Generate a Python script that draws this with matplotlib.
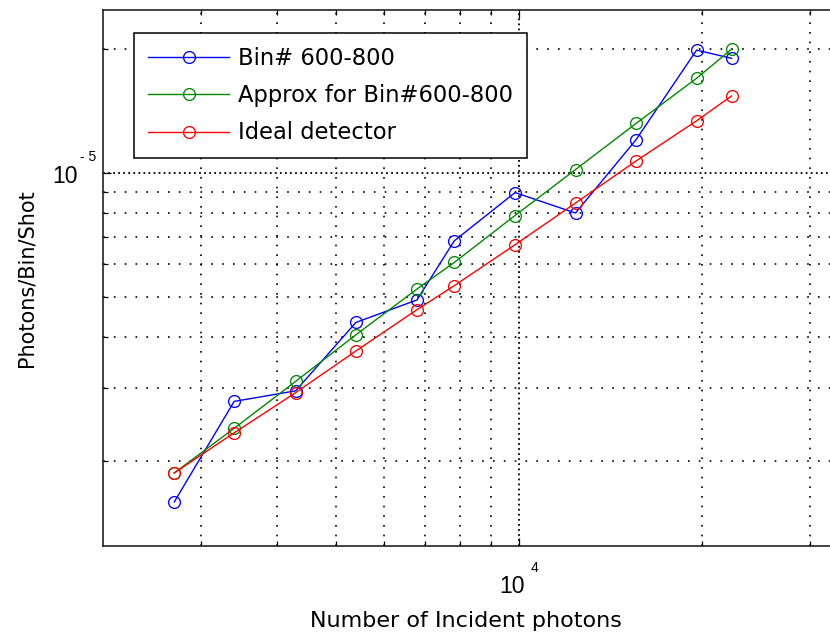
import numpy as np
import matplotlib.pyplot as plt
from matplotlib.ticker import LogLocator, FixedLocator, NullFormatter

plt.rcParams['font.family'] = ['DejaVu Sans']

# number of incident photons per shot
n_inc = [2710, 3400, 4290, 5390, 6790, 7820, 9840, 12370, 15550, 19560, 22330]
# measured photons/bin/shot, bins 600-800
bin_600_800 = [1.59e-6, 2.79e-6, 2.96e-6, 4.34e-6, 4.92e-6, 6.85e-6,
               8.97e-6, 8.00e-6, 1.205e-5, 1.99e-5, 1.90e-5]
# approximation for the same bins
approx_600_800 = [1.87e-6, 2.40e-6, 3.12e-6, 4.05e-6, 5.23e-6, 6.07e-6,
                  7.89e-6, 1.02e-5, 1.32e-5, 1.70e-5, 2.00e-5]
# ideal detector response
ideal = [1.87e-6, 2.34e-6, 2.93e-6, 3.70e-6, 4.66e-6, 5.33e-6,
         6.70e-6, 8.46e-6, 1.07e-5, 1.34e-5, 1.54e-5]

# decade ticks that carry a label
x_dec = [1e4]
y_dec = [1e-5]

fig = plt.figure(figsize=(8.3, 6.32), dpi=100)
ax = fig.add_axes([103/830, 86/632, 737/830, 536/632])

kw = dict(marker='o', mfc='none', ms=8.5, mew=0.95, lw=1.0)
ax.loglog(n_inc, bin_600_800, color='#0000ff', label='Bin# 600-800', **kw)
ax.loglog(n_inc, approx_600_800, color='#008800', label='Approx for Bin#600-800', **kw)
ax.loglog(n_inc, ideal, color='#ff0000', label='Ideal detector', **kw)

ax.set_xlim(2070, 33650)
ax.set_ylim(1.243e-6, 2.49e-5)

ax.xaxis.set_major_locator(FixedLocator(x_dec))
ax.xaxis.set_minor_locator(LogLocator(base=10, subs=np.arange(2, 10)))
ax.yaxis.set_major_locator(FixedLocator(y_dec))
ax.yaxis.set_minor_locator(LogLocator(base=10, subs=np.arange(2, 10)))
for a in (ax.xaxis, ax.yaxis):
    a.set_major_formatter(NullFormatter())
    a.set_minor_formatter(NullFormatter())

# decade labels written as 10 with a small raised exponent
tick_font = dict(family=['Liberation Sans', 'DejaVu Sans'], color='k')
for v in x_dec:
    e = int(round(np.log10(v)))
    ax.annotate('10', xy=(v, 0), xycoords=('data', 'axes fraction'),
                xytext=(-4.9, -29.2), textcoords='offset points',
                ha='center', va='center', fontsize=16.5, **tick_font)
    ax.annotate(str(e), xy=(v, 0), xycoords=('data', 'axes fraction'),
                xytext=(10.9, -15.8), textcoords='offset points',
                ha='center', va='center', fontsize=10, **tick_font)
for v in y_dec:
    e = int(round(np.log10(v)))
    ax.annotate('10', xy=(0, v), xycoords=('axes fraction', 'data'),
                xytext=(-27.7, -2.1), textcoords='offset points',
                ha='center', va='center', fontsize=16.5, **tick_font)
    ax.annotate(str(e).replace('-', '- '), xy=(0, v), xycoords=('axes fraction', 'data'),
                xytext=(-10.6, 11.4), textcoords='offset points',
                ha='center', va='center', fontsize=10, **tick_font)

# dotted grid, denser dots on the decade lines
ax.set_axisbelow(True)
ax.grid(True, which='minor', axis='x', color='k', lw=1.2, ls=(0, (1, 4.8)))
ax.grid(True, which='minor', axis='y', color='k', lw=1.2, ls=(0, (1, 5.5)))
ax.grid(True, which='major', color='k', lw=1.3, ls=(0, (1, 1.8)))

ax.tick_params(which='both', direction='in', top=True, right=True, width=0.9, colors='k')
ax.tick_params(which='major', length=6)
ax.tick_params(which='minor', length=3.6)
for sp in ax.spines.values():
    sp.set_linewidth(1.2)
    sp.set_color('#222222')

ax.set_xlabel('Number of Incident photons', fontsize=16)
ax.xaxis.set_label_coords(0.4925, -0.121)
ax.set_ylabel('Photons/Bin/Shot', fontsize=15)
ax.yaxis.set_label_coords(-0.0896, 0.5)

leg = ax.legend(loc='upper left', bbox_to_anchor=(0.0425, 0.9565), fontsize=16.3,
                frameon=True, fancybox=False, framealpha=1, edgecolor='k',
                borderpad=0.62, handlelength=3.58, handletextpad=0.38,
                labelspacing=0.62, borderaxespad=0)
leg.get_frame().set_linewidth(1.1)

fig.savefig('out.png', dpi=100)
